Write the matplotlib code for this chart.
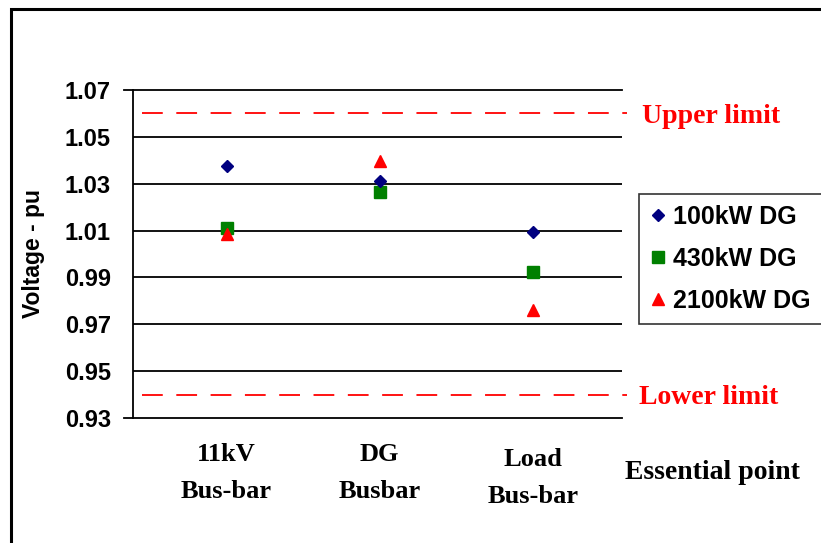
import matplotlib.pyplot as plt
from matplotlib.patches import Rectangle

# 数据
points = ['11kV\nBus-bar', 'DG\nBusbar', 'Load\nBus-bar']
v_100 = [1.0376, 1.0313, 1.0093]
v_430 = [1.0113, 1.0266, 0.9925]
v_2100 = [1.0085, 1.0399, 0.9762]
upper_limit = 1.06
lower_limit = 0.94
yticks = [0.93, 0.95, 0.97, 0.99, 1.01, 1.03, 1.05, 1.07]

fig = plt.figure(figsize=(8.21, 5.43), dpi=100)
ax = fig.add_axes([0.162, 0.2302, 0.5956, 0.6041])

x = [1, 2, 3]
ax.plot(x, v_100, 'D', color='#000080', markersize=6.5, label='100kW DG', zorder=5)
ax.plot(x, v_430, 's', color='#008000', markersize=8.5, label='430kW DG', zorder=4)
ax.plot(x, v_2100, '^', color='#ff0000', markersize=9, label='2100kW DG', zorder=6)

# 限值线
for lim in [upper_limit, lower_limit]:
    ax.axhline(lim, xmin=0.018, xmax=1.01, color='red', lw=1.3,
               dashes=(11.5, 7.5), clip_on=False)
ax.text(1.041, upper_limit, 'Upper limit', transform=ax.get_yaxis_transform(),
        color='red', fontsize=20, fontweight='bold', family='Liberation Serif',
        va='center_baseline', ha='left')
ax.text(1.035, lower_limit, 'Lower limit', transform=ax.get_yaxis_transform(),
        color='red', fontsize=20, fontweight='bold', family='Liberation Serif',
        va='center_baseline', ha='left')

# 网格 (上下两条带刻度延伸)
for y in yticks:
    if y in (0.93, 1.07):
        ax.axhline(y, xmin=-0.0184, xmax=1, color='black', lw=1.3,
                   zorder=1, clip_on=False)
    else:
        ax.axhline(y, color='black', lw=1.3, zorder=1)

ax.set_xlim(0.39, 3.58)
ax.set_ylim(0.93, 1.07)
ax.set_yticks(yticks)
ax.set_yticklabels(['%.2f' % t for t in yticks], family='Liberation Sans',
                   fontweight='bold', fontsize=17)
ax.tick_params(axis='y', length=0, pad=16)

ax.set_xticks(x)
ax.set_xticklabels(points, family='Liberation Serif', fontweight='bold',
                   fontsize=19, linespacing=1.78)
ax.tick_params(axis='x', length=0, pad=18)
ax.get_xticklabels()[2].set_y(-0.015)

for s in ['top', 'right', 'bottom']:
    ax.spines[s].set_visible(False)
ax.spines['left'].set_linewidth(1.3)

ax.set_ylabel('Voltage - pu', family='Liberation Sans', fontweight='bold',
              fontsize=16.5)
ax.yaxis.set_label_coords(-0.18, 0.5)

fig.text(712.5 / 821, 1 - 479 / 543, 'Essential point', family='Liberation Serif',
         fontweight='bold', fontsize=20, ha='center', va='baseline')

leg = ax.legend(loc='upper left', bbox_to_anchor=(1.035, 0.683), frameon=True,
                fancybox=False, edgecolor='black', handlelength=0.6,
                handletextpad=0.3, borderpad=0.45, labelspacing=0.72,
                borderaxespad=0,
                prop={'family': 'Liberation Sans', 'weight': 'bold', 'size': 18})
leg.get_frame().set_linewidth(1.2)

# 外框
fig.patches.append(Rectangle((11 / 821, -0.1), 1.2, 1 - 9 / 543 + 0.1,
                             transform=fig.transFigure, fill=False,
                             edgecolor='black', lw=2.2))

plt.savefig('out.png', dpi=100)
